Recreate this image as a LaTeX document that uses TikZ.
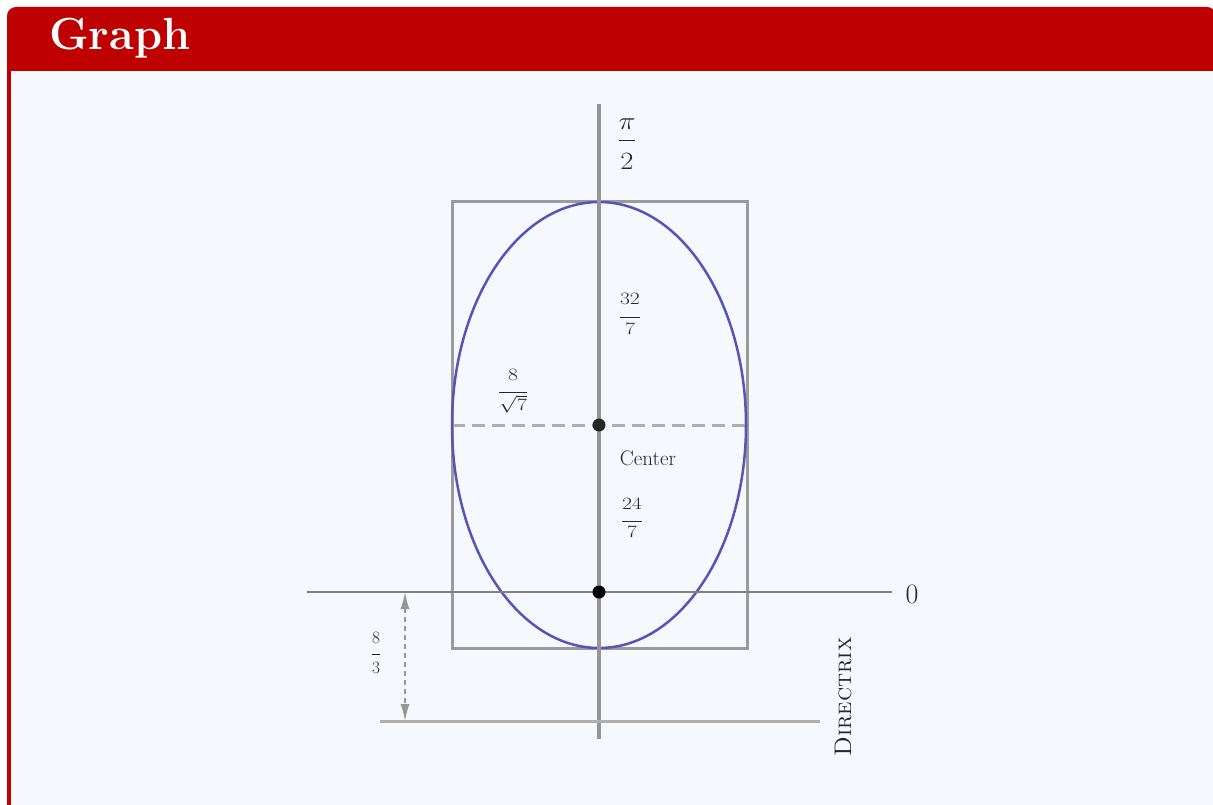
\documentclass[tikz,border=0pt]{standalone}
\usepackage{graphicx}
\usepackage{amsmath}
\usetikzlibrary{arrows.meta}
\definecolor{titlered}{RGB}{191,0,0}
\definecolor{bodybg}{RGB}{245,249,254}
\definecolor{axisgray}{RGB}{150,150,150}
\definecolor{polargray}{RGB}{128,128,128}
\definecolor{boxgray}{RGB}{155,155,155}
\definecolor{dirgray}{RGB}{175,175,175}
\definecolor{ellblue}{RGB}{85,85,185}
\newcommand\gfr[4]{\genfrac{}{}{0.8pt}{0}{\rule[-#3]{0pt}{#3}#1}{\rule{0pt}{#4}#2}}
\tikzset{
  lbl/.style={inner sep=0pt, text=black!85},
  axisline/.style={draw=axisgray, line width=3.5pt},
  polarline/.style={draw=polargray, line width=2pt},
  boxline/.style={draw=boxgray, line width=3pt},
  dirline/.style={draw=dirgray, line width=3pt},
  halfaxis/.style={draw=dirgray, line width=3pt, dash pattern=on 13pt off 7pt},
  dimline/.style={draw=axisgray, line width=1.5pt, dash pattern=on 5pt off 4pt, {Latex[length=17pt,width=9pt]}-{Latex[length=17pt,width=9pt]}},
  curve/.style={draw=ellblue, line width=2.5pt},
  dot/.style={circle, fill=black!85, inner sep=0pt, minimum size=13pt}
}
\begin{document}
\begin{tikzpicture}[x=1pt,y=-1pt]
\useasboundingbox (0,0) rectangle (1213,805);
\clip (0,0) rectangle (1213,805);
\fill[white] (0,0) rectangle (1213,805);
% frame
\fill[titlered, rounded corners=9pt] (7,7) rectangle (1216,900);
\fill[bodybg] (11,71) rectangle (1216,900);
\node[anchor=base west, inner sep=0pt, text=white, font=\fontsize{45}{54}\selectfont\bfseries] (title) at (49,50) {Graph};
% key points
\coordinate (pole) at (599,592);
\coordinate (ctr) at (599,425);
\coordinate (vtop) at (599,104);
\coordinate (vbot) at (599,739);
\coordinate (hl) at (307,592);
\coordinate (hr) at (892,592);
\coordinate (rtl) at (452,202);
\coordinate (rbr) at (747,648);
\coordinate (ml) at (452,425);
\coordinate (mr) at (747,425);
\coordinate (dl) at (380,721);
\coordinate (dr) at (820,721);
\coordinate (da) at (405,592);
\coordinate (db) at (405,721);
% drawing
\draw[boxline] (rtl) rectangle (rbr);
\draw[halfaxis] (ml) -- (mr);
\draw[curve] (ctr) ellipse [x radius=147pt, y radius=223pt];
\draw[polarline] (hl) -- (hr);
\draw[axisline] (vtop) -- (vbot);
\draw[dirline] (dl) -- (dr);
\draw[dimline] (da) -- (db);
\node[dot] (cdot) at (ctr) {};
\node[dot, fill=black] (pdot) at (pole) {};
% labels
\node[lbl, font=\fontsize{23}{27}\selectfont] (pihalf) at (627,144) {\scalebox{1.15}[1]{$\gfr{\pi}{2}{9pt}{26pt}$}};
\node[lbl, font=\fontsize{17}{20}\selectfont] (a32) at (630,314) {\scalebox{1.25}[1]{$\gfr{32}{7}{10pt}{14pt}$}};
\node[lbl, font=\fontsize{17}{20}\selectfont] (b8) at (513,391) {\scalebox{1.25}[1]{$\gfr{8}{\sqrt{7}}{9pt}{0pt}$}};
\node[lbl, font=\fontsize{17}{20}\selectfont] (c24) at (632,518) {\scalebox{1.25}[1]{$\gfr{24}{7}{9pt}{14pt}$}};
\node[lbl, font=\fontsize{18}{22}\selectfont] (d83) at (376,653) {$\gfr{8}{3}{8pt}{16pt}$};
\node[lbl, font=\fontsize{21}{25}\selectfont] (center) at (648,458) {Center};
\node[lbl, font=\fontsize{28}{33}\selectfont] (zero) at (912,594) {0};
\node[lbl, font=\fontsize{24}{28}\selectfont, rotate=90] (directrix) at (843,697) {\textsc{Directrix}};
\end{tikzpicture}
\end{document}
